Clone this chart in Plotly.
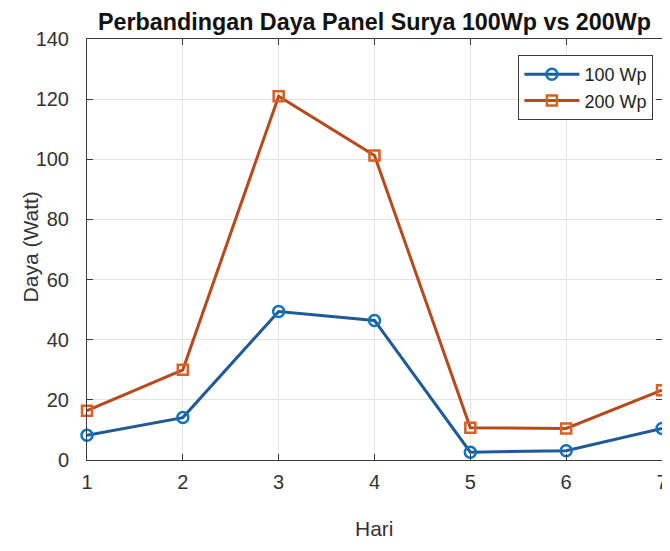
import plotly.graph_objects as go

hari = [1, 2, 3, 4, 5, 6, 7]
daya_100wp = [8.2, 14.1, 49.4, 46.4, 2.6, 3.1, 10.5]
daya_200wp = [16.4, 30.0, 121.0, 101.3, 10.7, 10.5, 23.2]
y_ticks = [0, 20, 40, 60, 80, 100, 120, 140]

BLUE_LINE = "#1F5A96"
BLUE_MARK = "#0F72BA"
ORANGE_LINE = "#B8491C"
ORANGE_MARK = "#D95F22"
FONT = "Liberation Sans, Arial, sans-serif"
AX = "#3A3A3A"

# page body has an 8px default margin, so the figure is sized to fit the 670x551 window
W, H = 662, 535
L, R, T, B = 79, 8, 31, 83
PH = H - T - B

fig = go.Figure()
fig.add_trace(go.Scatter(
    x=hari, y=daya_100wp, name="100 Wp", mode="lines+markers",
    line=dict(color=BLUE_LINE, width=3),
    marker=dict(symbol="circle-open", size=11, color=BLUE_MARK, line=dict(width=2.5)),
    cliponaxis=False,
))
fig.add_trace(go.Scatter(
    x=hari, y=daya_200wp, name="200 Wp", mode="lines+markers",
    line=dict(color=ORANGE_LINE, width=3),
    marker=dict(symbol="square-open", size=10, color=ORANGE_MARK, line=dict(width=2.5)),
    cliponaxis=False,
))

axis_common = dict(
    showline=True, linecolor=AX, linewidth=1, mirror="ticks",
    ticks="inside", ticklen=6, tickcolor=AX,
    showgrid=True, gridcolor="#E3E3E3", gridwidth=1, zeroline=False,
    tickfont=dict(family=FONT, size=20, color="#333333"),
    automargin=False, ticklabeloverflow="allow",
)

fig.update_layout(
    width=W, height=H,
    margin=dict(l=L, r=R, t=T, b=B),
    paper_bgcolor="white", plot_bgcolor="white",
    title=dict(text="<b>Perbandingan Daya Panel Surya 100Wp vs 200Wp</b>",
               x=(L + (W - R)) / 2 / W, xanchor="center", y=1 - 14 / H, yanchor="middle",
               font=dict(family=FONT, size=23.3, color="#111111")),
    xaxis=dict(range=[1, 7], tickvals=hari, ticktext=[str(h) for h in hari],
               ticklabelstandoff=4,
               **axis_common),
    yaxis=dict(range=[0, 140], tickvals=y_ticks,
               ticklabelstandoff=13,
               **axis_common),
    annotations=[
        dict(text="Daya (Watt)", textangle=-90, xref="paper", yref="paper",
             x=(22 - L) / (W - L - R), y=0.505, xanchor="center", yanchor="middle",
             showarrow=False, font=dict(family=FONT, size=21, color="#333333")),
        dict(text="Hari", xref="paper", yref="paper",
             x=0.5, y=-(520 - (T + PH)) / PH, xanchor="center", yanchor="middle",
             showarrow=False, font=dict(family=FONT, size=21, color="#333333")),
    ],
    legend=dict(x=0.985, y=0.962, xanchor="right", yanchor="top",
                bgcolor="white", bordercolor=AX, borderwidth=1,
                font=dict(family=FONT, size=18, color="#222222"),
                tracegroupgap=0, itemwidth=55),
    showlegend=True,
)

fig.write_html("out.html")
